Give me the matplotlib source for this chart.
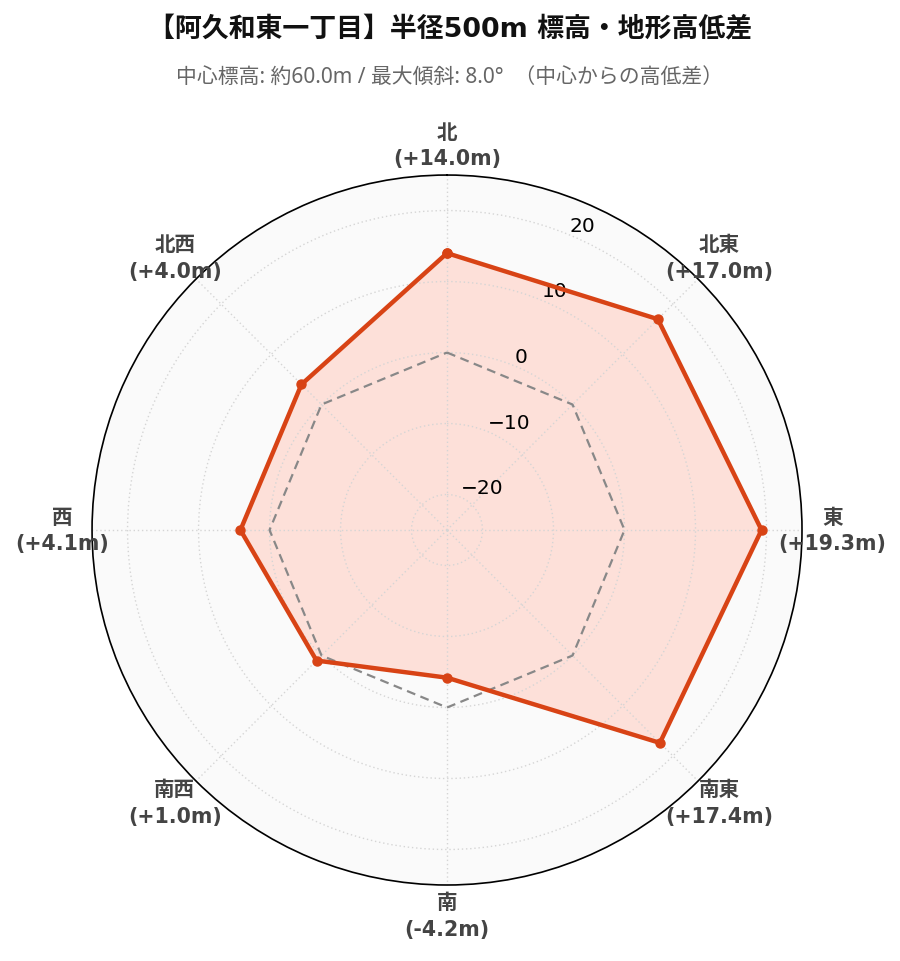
import numpy as np
import matplotlib.pyplot as plt

plt.rcParams['font.family'] = ['DejaVu Sans', 'Noto Sans CJK JP']

# 方角と中心からの高低差 (m)
directions = ["北", "北東", "東", "南東", "南", "南西", "西", "北西"]
diffs = [14.0, 17.0, 19.3, 17.4, -4.2, 1.0, 4.1, 4.0]
r_ticks = [-20, -10, 0, 10, 20]
title = "【阿久和東一丁目】半径500m 標高・地形高低差"
subtitle = "中心標高: 約60.0m / 最大傾斜: 8.0°  （中心からの高低差）"

angles = np.deg2rad(np.arange(len(directions)) * 360 / len(directions))
a_closed = np.append(angles, angles[0])
v_closed = np.append(diffs, diffs[0])
zero_closed = np.zeros_like(a_closed)

fig = plt.figure(figsize=(9, 9.62), dpi=100)
ax = fig.add_axes([0.1022, 0.079, 0.789, 0.738], projection='polar')
ax.set_theta_zero_location('N')
ax.set_theta_direction(-1)
ax.set_ylim(-25, 25)
ax.set_facecolor('#fafafa')

ax.fill(a_closed, v_closed, color='#fde0d9', zorder=1)
ax.plot(a_closed, zero_closed, color='#888888', lw=1.6, ls=(0, (4, 2.5)), zorder=2)
ax.plot(a_closed, v_closed, color='#d84315', lw=3.2, marker='o', ms=6.5, zorder=3)

ax.set_xticks(angles)
ax.set_xticklabels([])
ax.set_yticks(r_ticks)
ax.set_yticklabels([str(t).replace('-', '\u2212') for t in r_ticks], fontsize=14.5)
ax.set_rlabel_position(22.5)
ax.grid(True, color='#d5d5d5', ls=(0, (1, 2)), lw=1)
ax.spines['polar'].set_color('black')
ax.spines['polar'].set_linewidth(1.2)

for ang, name, d in zip(angles, directions, diffs):
    x = 0.5 + 0.5 * 1.085 * np.sin(ang)
    y = 0.5 + 0.5 * 1.085 * np.cos(ang)
    ax.text(x, y, f"{name}\n({d:+.1f}m)", transform=ax.transAxes,
            ha='center', va='center', fontsize=14.8, fontweight='bold',
            color='#444444', linespacing=1.42)

fig.text(0.5, 1 - 29 / 962, title, ha='center', va='center',
         fontsize=19.4, fontweight='bold', color='#111111')
fig.text(0.5, 1 - 77 / 962, subtitle, ha='center', va='center',
         fontsize=15, color='#666666', family=['Noto Sans', 'Noto Sans CJK JP'])

fig.savefig('out.png', dpi=100)
